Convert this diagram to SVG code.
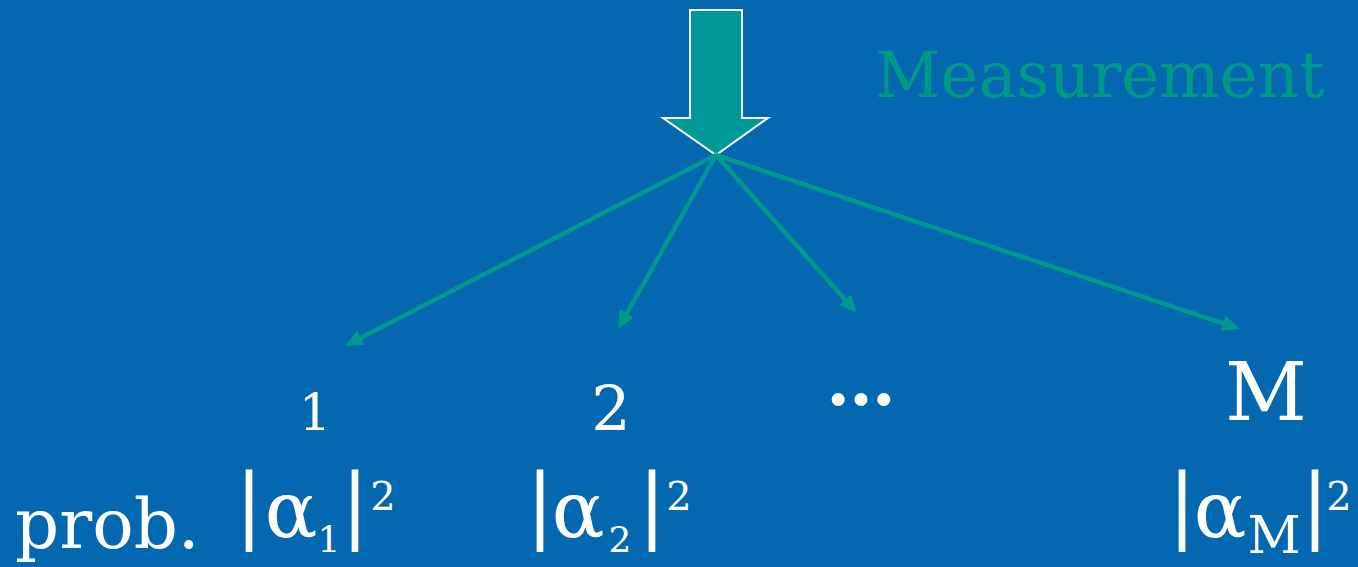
<svg xmlns="http://www.w3.org/2000/svg" width="1358" height="567" viewBox="0 0 1358 567">
<style>
.t{font-family:"DejaVu Serif",serif;fill:#ffffff;text-anchor:middle}
.bar{font-size:83px}
.al{font-size:78px}
.sb{font-size:36px}
.sp{font-size:40px}
.c{stroke:#009990;stroke-width:4.5;fill:none}
</style>
<defs>
<marker id="ah" markerWidth="18" markerHeight="16" refX="11" refY="8" orient="auto" markerUnits="userSpaceOnUse">
<path d="M0,0 L18,8 L0,16 Z" fill="#009990"/>
</marker>
</defs>
<rect width="1358" height="567" fill="#0468B1"/>
<g id="measure">
<path d="M690,10 L742,10 L742,118 L768,118 L716,155 L663,118 L690,118 Z" fill="#009999" stroke="#ffffff" stroke-width="2"/>
<text x="875" y="97" font-family="DejaVu Serif,serif" font-size="64" fill="#009985">Measurement</text>
</g>
<g id="connectors">
<line class="c" x1="716" y1="155" x2="351.2" y2="342.8" marker-end="url(#ah)"/>
<line class="c" x1="716" y1="155" x2="621.4" y2="322.9" marker-end="url(#ah)"/>
<line class="c" x1="716" y1="155" x2="852.3" y2="307.8" marker-end="url(#ah)"/>
<line class="c" x1="716" y1="155" x2="1233.4" y2="326.8" marker-end="url(#ah)"/>
</g>
<g id="out1">
<text class="t" x="315" y="430" font-size="51">1</text>
<text x="15" y="548" font-family="DejaVu Serif,serif" font-size="69" fill="#ffffff">prob.</text>
<text class="t"><tspan class="bar" x="249" y="533">|</tspan><tspan class="al" x="291" y="537">α</tspan><tspan class="sb" x="329" y="552">1</tspan><tspan class="bar" x="355" y="533">|</tspan><tspan class="sp" x="383" y="510">2</tspan></text>
</g>
<g id="out2">
<text class="t" x="611" y="430" font-size="62">2</text>
<text class="t"><tspan class="bar" x="540" y="533">|</tspan><tspan class="al" x="578" y="537">α</tspan><tspan class="sb" x="620" y="552">2</tspan><tspan class="bar" x="652" y="533">|</tspan><tspan class="sp" x="679" y="510">2</tspan></text>
</g>
<g id="outdots">
<text class="t" x="861" y="405" font-size="70" font-weight="bold">…</text>
</g>
<g id="outM">
<text class="t" x="1266" y="420" font-size="80">M</text>
<text class="t"><tspan class="bar" x="1182" y="533">|</tspan><tspan class="al" x="1220" y="537">α</tspan><tspan x="1274" y="553" font-size="52">M</tspan><tspan class="bar" x="1315" y="533">|</tspan><tspan class="sp" x="1339" y="510">2</tspan></text>
</g>
</svg>
